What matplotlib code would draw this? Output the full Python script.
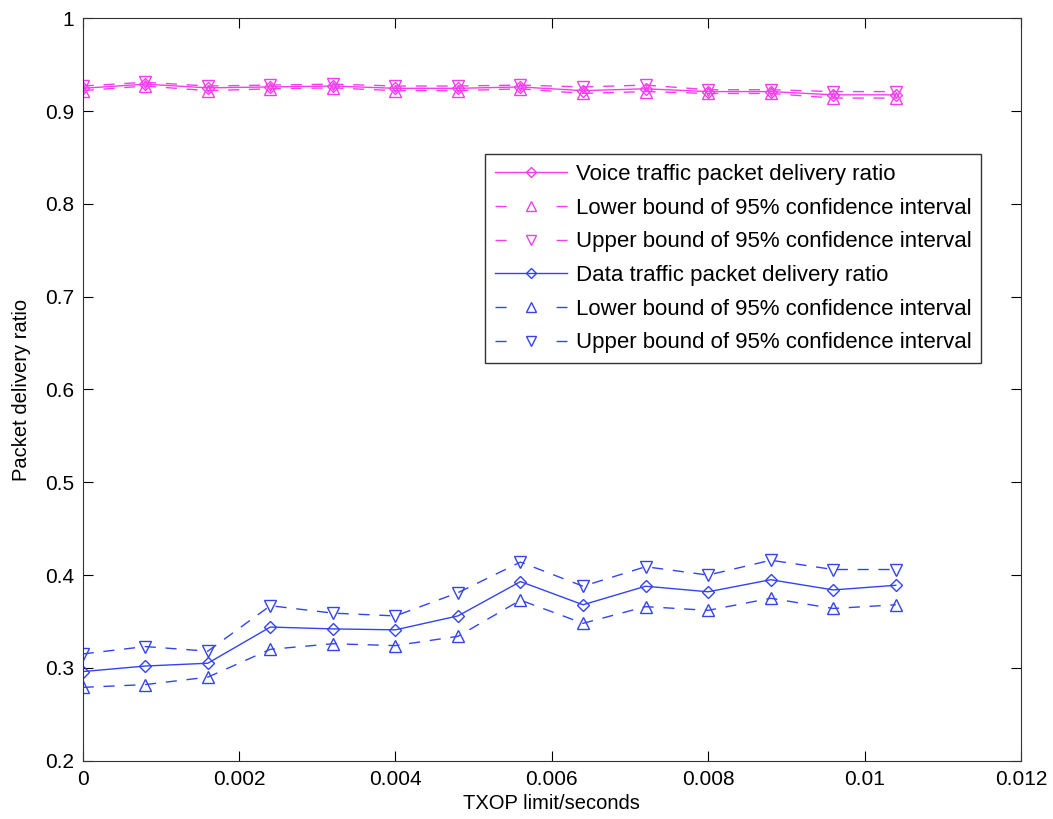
import matplotlib.pyplot as plt
from matplotlib.lines import Line2D

plt.rcParams['font.family'] = ['Liberation Sans', 'DejaVu Sans']

txop = [0, 0.0008, 0.0016, 0.0024, 0.0032, 0.004, 0.0048, 0.0056,
        0.0064, 0.0072, 0.008, 0.0088, 0.0096, 0.0104]

voice = [0.9245, 0.929, 0.925, 0.926, 0.927, 0.9245, 0.9245, 0.926,
         0.922, 0.924, 0.921, 0.921, 0.9175, 0.9175]
voice_low = [0.922, 0.927, 0.922, 0.924, 0.925, 0.922, 0.922, 0.924,
             0.919, 0.921, 0.919, 0.919, 0.914, 0.914]
voice_up = [0.927, 0.931, 0.927, 0.928, 0.929, 0.927, 0.927, 0.928,
            0.926, 0.928, 0.923, 0.923, 0.921, 0.921]

data = [0.296, 0.302, 0.305, 0.344, 0.342, 0.341, 0.356, 0.393,
        0.368, 0.388, 0.382, 0.395, 0.384, 0.389]
data_low = [0.279, 0.282, 0.290, 0.320, 0.326, 0.324, 0.334, 0.373,
            0.348, 0.366, 0.362, 0.375, 0.364, 0.368]
data_up = [0.315, 0.323, 0.318, 0.367, 0.359, 0.356, 0.381, 0.414,
           0.388, 0.409, 0.400, 0.416, 0.406, 0.406]

labels = ['Voice traffic packet delivery ratio',
          'Lower bound of 95% confidence interval',
          'Upper bound of 95% confidence interval',
          'Data traffic packet delivery ratio',
          'Lower bound of 95% confidence interval',
          'Upper bound of 95% confidence interval']

mag = '#f53df0'
blu = '#3344ee'
dash = (8, 7)

fig = plt.figure(figsize=(10.53, 8.19), dpi=100)
ax = fig.add_axes([0.0785, 0.0712, 0.891, 0.9065])

ax.plot(txop, voice, color=mag, lw=1, marker='D', ms=6.5, mfc='none')
ax.plot(txop, voice_low, color=mag, lw=1, dashes=dash, marker='^', ms=9, mfc='none')
ax.plot(txop, voice_up, color=mag, lw=1, dashes=dash, marker='v', ms=9, mfc='none')
ax.plot(txop, data, color=blu, lw=1, marker='D', ms=6.5, mfc='none')
ax.plot(txop, data_low, color=blu, lw=1, dashes=dash, marker='^', ms=9, mfc='none')
ax.plot(txop, data_up, color=blu, lw=1, dashes=dash, marker='v', ms=9, mfc='none')

# legend handles: short dash on each side of the marker, like the original
handles = []
for c in [mag, blu]:
    handles.append(Line2D([], [], color=c, lw=1, marker='D', ms=5.5, mfc='none'))
    handles.append(Line2D([], [], color=c, lw=1, dashes=(8, 36), marker='^', ms=7, mfc='none'))
    handles.append(Line2D([], [], color=c, lw=1, dashes=(8, 36), marker='v', ms=7, mfc='none'))

ax.set_xlim(0, 0.012)
ax.set_ylim(0.2, 1)
ax.set_xticks([0, 0.002, 0.004, 0.006, 0.008, 0.01, 0.012])
ax.set_xticklabels(['0', '0.002', '0.004', '0.006', '0.008', '0.01', '0.012'])
ax.set_yticks([0.2, 0.3, 0.4, 0.5, 0.6, 0.7, 0.8, 0.9, 1])
ax.set_yticklabels(['0.2', '0.3', '0.4', '0.5', '0.6', '0.7', '0.8', '0.9', '1'])
ax.tick_params(direction='in', labelsize=15, length=7, top=True, right=True)
ax.tick_params(axis='x', pad=7)
ax.tick_params(axis='y', pad=6)
for s in ax.spines.values():
    s.set_color('#333333')
ax.set_xlabel('TXOP limit/seconds', fontsize=14.5, labelpad=3)
ax.set_ylabel('Packet delivery ratio', fontsize=14.5, labelpad=10)

leg = ax.legend(handles, labels, loc='upper right', bbox_to_anchor=(0.958, 0.817),
                borderaxespad=0, fontsize=16, fancybox=False, edgecolor='#333333',
                framealpha=1, handlelength=3.25, handletextpad=0.4,
                labelspacing=0.57, borderpad=0.45)
leg.get_frame().set_linewidth(1)

fig.savefig('out.png', dpi=100)
